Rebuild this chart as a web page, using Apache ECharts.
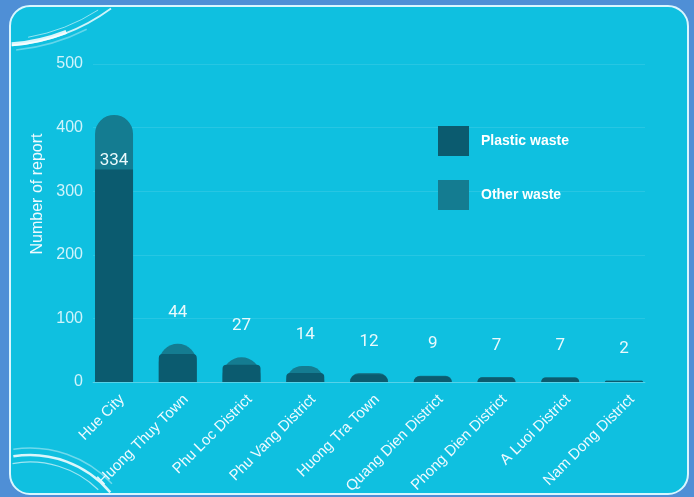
<!DOCTYPE html>
<html>
<head>
<meta charset="utf-8">
<script src="https://cdn.jsdelivr.net/npm/echarts@6/dist/echarts.min.js"></script>
<style>
  html, body { margin: 0; padding: 0; background: #4f8fd6; }
  #chart { width: 694px; height: 497px; }
</style>
</head>
<body>
<div id="chart"></div>
<script>
const districts = ['Hue City', 'Huong Thuy Town', 'Phu Loc District', 'Phu Vang District', 'Huong Tra Town',
  'Quang Dien District', 'Phong Dien District', 'A Luoi District', 'Nam Dong District']
const plastic = [334, 44, 27, 14, 12, 9, 7, 7, 2]
const other = [86, 16, 12, 11, 2, 1, 1, 0, 0]
const yTicks = [0, 100, 200, 300, 400, 500]

const PLASTIC = '#0b5b6f'
const OTHER = '#147c91'

const chart = echarts.init(document.getElementById('chart'))

// total bar (other colour, rounded) sits behind the plastic bar
const totals = plastic.map((p, i) => {
  const item = { value: [i, p + other[i]] }
  if (i === 0) item.label = { position: 'insideTop', distance: 37 }
  return item
})
// small bars: plastic part carries the rounding
const plasticRadius = [0, 4, 4, 4, 8, 8, 8, 8, 8]
const plasticData = plastic.map((p, i) => ({
  value: [i, p],
  itemStyle: { borderRadius: [plasticRadius[i], plasticRadius[i], 0, 0] }
}))

const white = '#ffffff'
const swoosh = (cx, cy, r, a0, a1, w, op) => ({
  type: 'arc', z: -5,
  shape: { cx, cy, r, startAngle: a0, endAngle: a1 },
  style: { stroke: 'rgba(255,255,255,' + op + ')', lineWidth: w, fill: null }
})

const option = {
  backgroundColor: '#4f8fd6',
  textStyle: { fontFamily: 'Liberation Sans, Arial, sans-serif' },
  grid: { left: 93, right: 49, top: 64, bottom: 115 },
  legend: {
    orient: 'vertical',
    left: 438, top: 126,
    padding: 0,
    itemWidth: 31, itemHeight: 30, itemGap: 24,
    icon: 'rect',
    data: ['Plastic waste', 'Other waste'],
    textStyle: { color: white, fontSize: 14, fontWeight: 'bold', padding: [0, 0, 0, 7] }
  },
  xAxis: {
    type: 'value',
    min: -0.33, max: 8.33,
    splitLine: { show: false },
    axisTick: { show: false },
    axisLine: { show: true, lineStyle: { color: 'rgba(255,255,255,0.22)', width: 1 } },
    axisLabel: {
      customValues: districts.map((d, i) => i),
      formatter: v => districts[Math.round(v)],
      rotate: 45,
      margin: 7,
      verticalAlign: 'top',
      padding: [4, 0, 0, 0],
      color: '#eefaff',
      fontSize: 15
    }
  },
  yAxis: {
    type: 'value',
    min: 0, max: 500, interval: 100,
    axisLine: { show: false },
    axisTick: { show: false },
    splitLine: { lineStyle: { color: 'rgba(255,255,255,0.1)', width: 1 } },
    axisLabel: {
      margin: 10,
      color: 'rgba(235,250,255,0.88)',
      fontSize: 16,
      customValues: yTicks
    }
  },
  graphic: [
    {
      type: 'rect', z: -10,
      shape: { x: 10, y: 6, width: 678, height: 488, r: 20 },
      style: { fill: '#0fc0e0', stroke: '#d9f6ff', lineWidth: 2 }
    },
    // corner swooshes
    swoosh(-4, -149, 194, 1.2, 1.49, 4, 0.85),
    swoosh(-4, -149, 195, 0.94, 1.49, 1.8, 0.8),
    swoosh(-4, -149, 189, 1.0, 1.4, 1, 0.55),
    swoosh(-4, -149, 200, 1.1, 1.47, 1.5, 0.35),
    swoosh(30, 560, 105, -1.73, -0.7, 2.5, 0.85),
    swoosh(30, 560, 98, -1.75, -0.8, 1.2, 0.6),
    swoosh(30, 560, 112, -1.72, -0.75, 1.5, 0.4),
    {
      type: 'text', z: 5,
      x: 38, y: 194, rotation: Math.PI / 2,
      style: {
        text: 'Number of report', fill: '#eefaff', fontSize: 16,
        fontFamily: 'Liberation Sans, Arial, sans-serif',
        align: 'center', verticalAlign: 'middle'
      }
    }
  ],
  series: [
    {
      name: 'Other waste',
      type: 'bar',
      barWidth: 38,
      data: totals,
      itemStyle: { color: OTHER, borderRadius: [19, 19, 0, 0] },
      label: {
        show: true,
        position: 'top',
        distance: 23,
        color: '#eaf9fc',
        fontSize: 17,
        fontFamily: 'Roboto, sans-serif',
        formatter: p => plastic[p.dataIndex]
      }
    },
    {
      name: 'Plastic waste',
      type: 'bar',
      barWidth: 38,
      barGap: '-100%',
      data: plasticData,
      itemStyle: { color: PLASTIC }
    }
  ]
}

chart.setOption(option)
</script>
</body>
</html>
